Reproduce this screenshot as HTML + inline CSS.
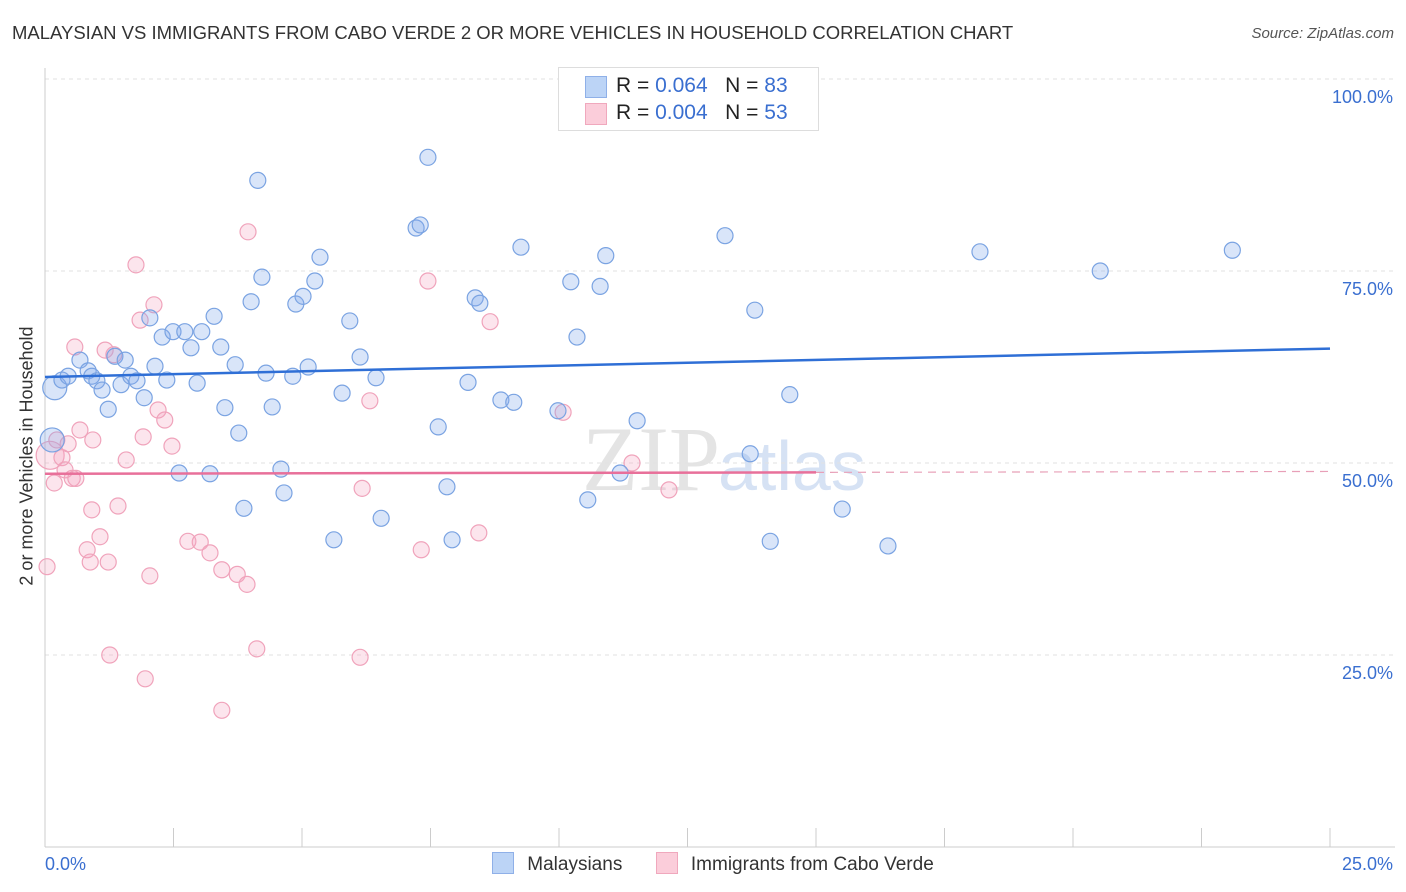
<!DOCTYPE html>
<html><head><meta charset="utf-8"><style>
body{margin:0;background:#fff;font-family:"Liberation Sans",sans-serif;}
#wrap{position:relative;width:1406px;height:892px;overflow:hidden;}
.t{position:absolute;white-space:nowrap;}
</style></head><body>
<div id="wrap">
<div class="t" style="left:12px;top:22px;font-size:18.5px;color:#333;">MALAYSIAN VS IMMIGRANTS FROM CABO VERDE 2 OR MORE VEHICLES IN HOUSEHOLD CORRELATION CHART</div>
<div class="t" style="right:12px;top:25px;font-size:15px;color:#555;font-style:italic;">Source: ZipAtlas.com</div>
<div class="t" style="left:27px;top:456px;font-size:18px;color:#333;transform:translate(-50%,-50%) rotate(-90deg);">2 or more Vehicles in Household</div>
<svg id="svg" width="1406" height="892" style="position:absolute;left:0;top:0;">
<text x="720" y="490" font-size="92" font-family="Liberation Serif" fill="#e4e4e4" text-anchor="end">ZIP</text>
<text x="718" y="490" font-size="70" font-family="Liberation Sans" fill="#d6e2f4">atlas</text>
</svg>
<div style="position:absolute;left:558px;top:67px;width:259px;height:62px;border:1px solid #ddd;background:#fff;font-size:21px;">
<div style="position:absolute;left:26px;top:8px;width:20px;height:20px;background:#bcd4f6;border:1px solid #8fb0e8;"></div>
<div class="t" style="left:57px;top:6px;color:#222;">R = <span style="color:#3a6fd0">0.064</span>&nbsp;&nbsp;&nbsp;N = <span style="color:#3a6fd0">83</span></div>
<div style="position:absolute;left:26px;top:35px;width:20px;height:20px;background:#fbcdda;border:1px solid #f0a8bd;"></div>
<div class="t" style="left:57px;top:33px;color:#222;">R = <span style="color:#3a6fd0">0.004</span>&nbsp;&nbsp;&nbsp;N = <span style="color:#3a6fd0">53</span></div>
</div>
<div style="position:absolute;left:492px;top:852px;font-size:19px;color:#333;">
<span style="display:inline-block;width:20px;height:20px;background:#bcd4f6;border:1px solid #8fb0e8;vertical-align:-4px;"></span>
<span style="margin-left:8px;">Malaysians</span>
<span style="display:inline-block;width:20px;height:20px;background:#fbcdda;border:1px solid #f0a8bd;vertical-align:-4px;margin-left:28px;"></span>
<span style="margin-left:8px;">Immigrants from Cabo Verde</span>
</div>
</div>
<script>
const blueX=[0.19,0.33,0.45,0.68,0.84,0.91,1.01,1.11,1.23,1.36,1.48,1.56,1.67,1.79,1.93,2.04,2.14,2.28,2.37,2.49,2.61,2.72,2.84,2.96,3.05,3.21,3.29,3.42,3.50,3.70,3.77,3.87,4.01,4.14,4.22,4.30,4.42,4.59,4.65,4.82,4.88,5.02,5.12,5.25,5.35,5.62,5.78,5.93,6.13,6.44,6.54,7.22,7.30,7.45,7.65,7.82,7.92,8.23,8.37,8.46,8.87,9.12,9.26,9.98,10.23,10.35,10.56,10.80,10.91,11.19,11.52,13.23,13.72,13.81,14.11,14.49,15.51,16.40,18.19,20.53,23.10,0.14];
const blueY=[59.8,60.8,61.3,63.4,62.0,61.3,60.7,59.5,57.0,63.9,60.2,63.4,61.3,60.7,58.5,68.9,62.6,66.4,60.8,67.1,48.7,67.1,65.0,60.4,67.1,48.6,69.1,65.1,57.2,62.8,53.9,44.1,71.0,86.8,74.2,61.7,57.3,49.2,46.1,61.3,70.7,71.7,62.5,73.7,76.8,40.0,59.1,68.5,63.8,61.1,42.8,80.6,81.0,89.8,54.7,46.9,40.0,60.5,71.5,70.8,58.2,57.9,78.1,56.8,73.6,66.4,45.2,73.0,77.0,48.7,55.5,79.6,51.2,69.9,39.8,58.9,44.0,39.2,77.5,75.0,77.7,53.0];
const pinkX=[0.04,0.10,0.18,0.23,0.33,0.39,0.45,0.53,0.60,0.58,0.68,0.82,0.88,0.91,0.93,1.07,1.17,1.23,1.26,1.34,1.42,1.58,1.77,1.85,1.91,1.95,2.04,2.12,2.20,2.33,2.47,2.78,3.02,3.21,3.44,3.44,3.74,3.93,3.95,4.12,6.13,6.17,6.32,7.32,7.45,8.44,8.66,10.08,11.42,12.14];
const pinkY=[36.5,51.0,47.4,53.0,50.7,49.1,52.5,48.0,48.0,65.1,54.3,38.7,37.1,43.9,53.0,40.4,64.7,37.1,25.0,64.1,44.4,50.4,75.8,68.6,53.4,21.9,35.3,70.6,56.9,55.6,52.2,39.8,39.7,38.3,17.8,36.1,35.5,34.2,80.1,25.8,24.7,46.7,58.1,38.7,73.7,40.9,68.4,56.6,50.0,46.5];
const blueTrend=[61.2,64.9];
const pinkTrend=[48.6,48.9];
const yTicks=[25,50,75,100];
const xTickLabels=["0.0%","25.0%"];
const X0=45,X1=1330,Y0=847,Y100=79;
const sx=v=>X0+(X1-X0)*v/25;
const sy=v=>Y0-(Y0-Y100)*v/100;
const svg=document.getElementById('svg');
const NS='http://www.w3.org/2000/svg';
function mk(t,a){const e=document.createElementNS(NS,t);for(const k in a)e.setAttribute(k,a[k]);svg.appendChild(e);return e;}
yTicks.forEach(v=>{
 const l=mk('line',{x1:X0,x2:1395,y1:sy(v),y2:sy(v),stroke:'#e2e2e2','stroke-dasharray':'4 4'});
 
 
 const t=mk('text',{x:1393,y:sy(v)+24,'text-anchor':'end','font-size':18,fill:'#3a6fd0'});
 t.textContent=v.toFixed(1)+'%';
 
 
});
const ax=mk('line',{x1:X0,x2:X0,y1:68,y2:Y0,stroke:'#ccc'});


const xa=mk('line',{x1:X0,x2:1395,y1:Y0,y2:Y0,stroke:'#ccc'});


for(let i=0;i<=10;i++){
 const tk=mk('line',{x1:sx(i*2.5),x2:sx(i*2.5),y1:828,y2:Y0,stroke:'#ccc'});
 
 
}
[[0,'start',X0],[25,'end',1393]].forEach((d,i)=>{
 const t=mk('text',{x:d[2],y:870,'text-anchor':d[1],'font-size':18,fill:'#3a6fd0'});
 t.textContent=xTickLabels[i];
 
 
});
pinkX.forEach((x,i)=>{
 const c=mk('circle',{cx:sx(x),cy:sy(pinkY[i]),r:(i==1?14:8),fill:'rgba(245,160,190,0.28)',stroke:'#f0a3bb','stroke-width':1.2});
 
 
});
blueX.forEach((x,i)=>{
 const c=mk('circle',{cx:sx(x),cy:sy(blueY[i]),r:(i==0||i==81?12:8),fill:'rgba(130,170,235,0.3)',stroke:'#7aa3e2','stroke-width':1.2});
 
 
});
const bl=mk('line',{x1:sx(0),x2:sx(25),y1:sy(blueTrend[0]),y2:sy(blueTrend[1]),stroke:'#2f6fd6','stroke-width':2.5});


const pm=pinkTrend[0]+(pinkTrend[1]-pinkTrend[0])*15/25;
const pl=mk('line',{x1:sx(0),x2:sx(15),y1:sy(pinkTrend[0]),y2:sy(pm),stroke:'#e8709a','stroke-width':2.5});


const pd=mk('line',{x1:sx(15),x2:sx(25),y1:sy(pm),y2:sy(pinkTrend[1]),stroke:'#e8a0b8','stroke-width':1.2,'stroke-dasharray':'8 6'});


</script>
</body></html>
